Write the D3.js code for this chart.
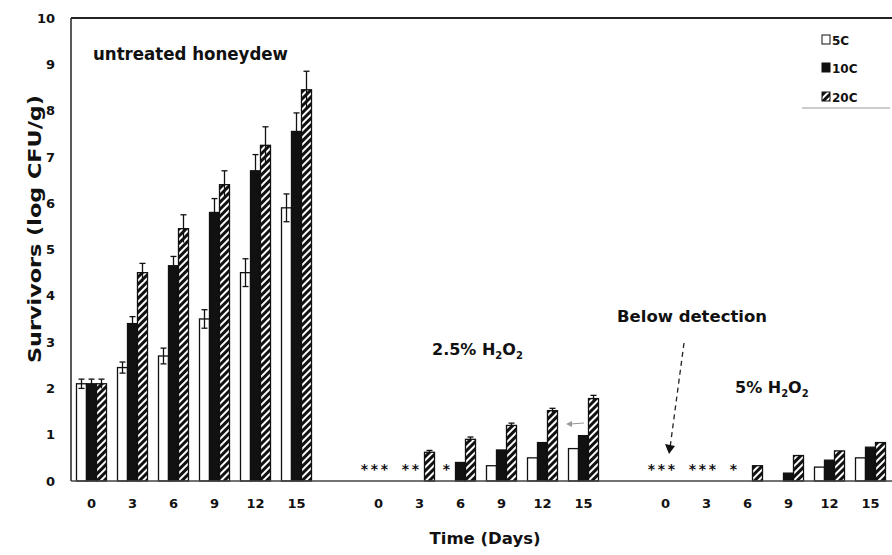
<!DOCTYPE html>
<html>
<head>
<meta charset="utf-8">
<script src="https://cdn.jsdelivr.net/npm/d3@7"></script>
<style>
  html, body { margin: 0; padding: 0; background: #fff; }
  svg { display: block; font-family: "DejaVu Sans", "Liberation Sans", Arial, sans-serif; }
  text { font-weight: bold; fill: #111; }
</style>
</head>
<body>
<svg id="chart" width="892" height="555"></svg>
<script>
// Storage days and temperatures
const days = [0, 3, 6, 9, 12, 15];
const temps = ["5C", "10C", "20C"];
const treatments = ["untreated", "h25", "h5"];
const yTicks = [0, 1, 2, 3, 4, 5, 6, 7, 8, 9, 10];

// Survivors (log CFU/g); null = below detection
const untreated5C  = [2.1, 2.45, 2.7, 3.5, 4.5, 5.9];
const untreated10C = [2.1, 3.4, 4.65, 5.8, 6.7, 7.55];
const untreated20C = [2.1, 4.5, 5.45, 6.4, 7.25, 8.45];
const untreatedErr5C  = [0.1, 0.12, 0.17, 0.2, 0.3, 0.3];
const untreatedErr10C = [0.1, 0.15, 0.2, 0.3, 0.35, 0.4];
const untreatedErr20C = [0.1, 0.2, 0.3, 0.3, 0.4, 0.4];

const h25_5C  = [null, null, null, 0.33, 0.5, 0.7];
const h25_10C = [null, null, 0.4, 0.67, 0.83, 0.98];
const h25_20C = [null, 0.62, 0.9, 1.2, 1.52, 1.78];
const h25Err20C = [0, 0.04, 0.05, 0.05, 0.05, 0.07];

const h5_5C  = [null, null, null, null, 0.3, 0.5];
const h5_10C = [null, null, null, 0.17, 0.45, 0.73];
const h5_20C = [null, null, 0.33, 0.55, 0.65, 0.83];

// Counts below the detection limit, marked with an asterisk
const belowDetection = [
  ["h25", 0, "5C"], ["h25", 0, "10C"], ["h25", 0, "20C"],
  ["h25", 3, "5C"], ["h25", 3, "10C"],
  ["h25", 6, "5C"],
  ["h5", 0, "5C"], ["h5", 0, "10C"], ["h5", 0, "20C"],
  ["h5", 3, "5C"], ["h5", 3, "10C"], ["h5", 3, "20C"],
  ["h5", 6, "5C"]
];

const seriesTable = {
  untreated: { "5C": untreated5C, "10C": untreated10C, "20C": untreated20C },
  h25: { "5C": h25_5C, "10C": h25_10C, "20C": h25_20C },
  h5:  { "5C": h5_5C,  "10C": h5_10C,  "20C": h5_20C }
};
const errTable = {
  untreated: { "5C": untreatedErr5C, "10C": untreatedErr10C, "20C": untreatedErr20C },
  h25: { "20C": h25Err20C }
};

// One slot per day, with an empty slot separating treatments
const slots = [];
treatments.forEach((t, i) => {
  if (i > 0) slots.push("gap" + i);
  days.forEach(d => slots.push(t + "-" + d));
});

const svg = d3.select("#chart");
const plotLeft = 71, plotRight = 891, plotTop = 18, plotBottom = 481;

const x = d3.scaleBand().domain(slots).range([plotLeft, plotRight]);
const xInner = d3.scaleBand().domain(temps).range([-15, 15]);
const y = d3.scaleLinear().domain([0, 10]).range([plotBottom, plotTop]);

// Hatch pattern for 20C bars
const defs = svg.append("defs");
const pat = defs.append("pattern")
  .attr("id", "hatch")
  .attr("patternUnits", "userSpaceOnUse")
  .attr("width", 5).attr("height", 5)
  .attr("patternTransform", "rotate(45)");
pat.append("rect").attr("width", 5).attr("height", 5).attr("fill", "#111");
pat.append("rect").attr("x", 0).attr("width", 2).attr("height", 5).attr("fill", "#fff");

const fills = { "5C": "#fff", "10C": "#111", "20C": "url(#hatch)" };

// Frame: top rule, left axis
svg.append("line").attr("x1", plotLeft).attr("x2", 892).attr("y1", plotTop).attr("y2", plotTop)
  .attr("stroke", "#222").attr("stroke-width", 2);
svg.append("line").attr("x1", plotLeft).attr("x2", plotLeft).attr("y1", plotTop).attr("y2", plotBottom)
  .attr("stroke", "#222").attr("stroke-width", 1.5);

const fontStack = "DejaVu Sans, Liberation Sans, Arial, sans-serif";

// Y axis labels
const yAxis = d3.axisLeft(y).tickValues(yTicks).tickSize(0).tickPadding(11).tickFormat(d3.format("d"));
const gy = svg.append("g").attr("transform", `translate(${plotLeft - 5},0)`).call(yAxis);
gy.select(".domain").remove();
gy.selectAll("text").style("font-size", "13px").style("font-weight", "bold")
  .style("font-family", fontStack).attr("fill", "#111");

// X axis day labels
const xAxis = d3.axisBottom(x).tickSize(0).tickPadding(18)
  .tickValues(slots.filter(s => !s.startsWith("gap")))
  .tickFormat(s => s.split("-")[1]);
const gx = svg.append("g").attr("transform", `translate(0,${plotBottom})`).call(xAxis);
gx.select(".domain").remove();
gx.selectAll("text").style("font-size", "13px").style("font-weight", "bold")
  .style("font-family", fontStack).attr("fill", "#111");

// Bars
const barData = [];
treatments.forEach(t => days.forEach((d, i) => temps.forEach(tp => {
  const v = seriesTable[t][tp][i];
  if (v == null) return;
  const e = (errTable[t] && errTable[t][tp]) ? errTable[t][tp][i] : 0;
  barData.push({ slot: t + "-" + d, temp: tp, value: v, err: e });
})));

const bw = xInner.bandwidth();
const bx = d => x(d.slot) + x.bandwidth() / 2 + xInner(d.temp);

svg.append("g").selectAll("rect").data(barData).join("rect")
  .attr("x", bx)
  .attr("y", d => y(d.value))
  .attr("width", bw)
  .attr("height", d => y(0) - y(d.value))
  .attr("fill", d => fills[d.temp])
  .attr("stroke", "#111").attr("stroke-width", 1.3);

// Error bars
const eg = svg.append("g").attr("stroke", "#111").attr("stroke-width", 1.3);
barData.filter(d => d.err > 0).forEach(d => {
  const cx = bx(d) + bw / 2;
  eg.append("line").attr("x1", cx).attr("x2", cx).attr("y1", y(d.value - d.err)).attr("y2", y(d.value + d.err));
  eg.append("line").attr("x1", cx - 3).attr("x2", cx + 3).attr("y1", y(d.value + d.err)).attr("y2", y(d.value + d.err));
  if (d.temp === "5C") {
    eg.append("line").attr("x1", cx - 3).attr("x2", cx + 3).attr("y1", y(d.value - d.err)).attr("y2", y(d.value - d.err));
  }
});

// Baseline
svg.append("line").attr("x1", plotLeft).attr("x2", 892).attr("y1", plotBottom).attr("y2", plotBottom)
  .attr("stroke", "#444").attr("stroke-width", 1.3);

// Below-detection asterisks
svg.append("g").selectAll("text").data(belowDetection).join("text")
  .attr("x", d => x(d[0] + "-" + d[1]) + x.bandwidth() / 2 + xInner(d[2]) + bw / 2 - 4)
  .attr("y", y(0) - 7)
  .attr("text-anchor", "middle")
  .style("font-size", "14px")
  .text("*");

// Treatment annotations
svg.append("text").attr("x", 93).attr("y", 60).style("font-size", "17px")
  .attr("textLength", 195).attr("lengthAdjust", "spacingAndGlyphs").text("untreated honeydew");

function h2o2(xp, yp, pct) {
  const t = svg.append("text").attr("x", xp).attr("y", yp).style("font-size", "16px");
  t.append("tspan").text(pct + " H");
  t.append("tspan").attr("dy", 4).style("font-size", "10px").text("2");
  t.append("tspan").attr("dy", -4).text("O");
  t.append("tspan").attr("dy", 4).style("font-size", "10px").text("2");
}
h2o2(432, 355, "2.5%");
h2o2(735, 393, "5%");

svg.append("text").attr("x", 617).attr("y", 322).style("font-size", "16px")
  .attr("textLength", 150).attr("lengthAdjust", "spacingAndGlyphs").text("Below detection");

// Dashed pointer to the detection limit
svg.append("line").attr("x1", 684).attr("y1", 343).attr("x2", 670).attr("y2", 448)
  .attr("stroke", "#222").attr("stroke-width", 1.3).attr("stroke-dasharray", "5,4");
svg.append("path").attr("d", "M665,444 L675,446 L669,454 Z").attr("fill", "#111");

// Faint arrow beside the 2.5% bars
svg.append("line").attr("x1", 584).attr("y1", 423).attr("x2", 570).attr("y2", 424)
  .attr("stroke", "#999").attr("stroke-width", 1.2);
svg.append("path").attr("d", "M566,424 L572,421 L572,427 Z").attr("fill", "#999");

// Axis titles
svg.append("text").attr("transform", "translate(41,229) rotate(-90)")
  .attr("text-anchor", "middle").style("font-size", "17px")
  .attr("textLength", 268).attr("lengthAdjust", "spacingAndGlyphs").text("Survivors (log CFU/g)");
svg.append("text").attr("x", 485).attr("y", 544).attr("text-anchor", "middle")
  .style("font-size", "16px").attr("textLength", 111).attr("lengthAdjust", "spacingAndGlyphs")
  .text("Time (Days)");

// Legend
const legend = svg.append("g");
temps.forEach((tp, i) => {
  const ly = [40, 68, 97][i];
  legend.append("rect").attr("x", 822).attr("y", ly - 5).attr("width", 8).attr("height", 9)
    .attr("fill", fills[tp]).attr("stroke", "#111").attr("stroke-width", 1);
  legend.append("text").attr("x", 832).attr("y", ly + 4.5).style("font-size", "12px").text(tp);
});
legend.append("line").attr("x1", 802).attr("x2", 890).attr("y1", 108).attr("y2", 108)
  .attr("stroke", "#999").attr("stroke-width", 1);
</script>
</body>
</html>
